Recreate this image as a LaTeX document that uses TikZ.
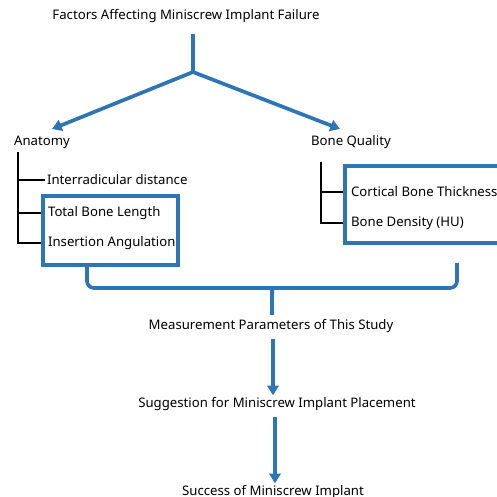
\documentclass[tikz,border=0pt]{standalone}
\usepackage{fontspec}
\setmainfont{Noto Sans}
\definecolor{flowblue}{RGB}{46,117,182}
\usetikzlibrary{arrows.meta,positioning,calc}
\tikzset{
  lbl/.style={font=\fontsize{7.5}{9}\selectfont,inner sep=1pt},
  item/.style={lbl,anchor=west},
  arr/.style={-{Triangle[length=5.5pt,width=6.5pt]},line width=2.1pt,flowblue},
  tree/.style={line width=1.2pt,black},
  pbox/.style={draw=flowblue,line width=2.1pt,inner sep=0pt},
  brace/.style={line width=2.1pt,flowblue,rounded corners=4pt},
}
\begin{document}
\begin{tikzpicture}[x=0.2mm,y=-0.2mm]
  \useasboundingbox (0,0) rectangle (497,497);
  \clip (0,0) rectangle (497,497);

  % top split
  \node[lbl] (fact) at (186,16) {Factors Affecting Miniscrew Implant Failure};
  \coordinate (stem) at (193,34);
  \coordinate (split) at (193,72);
  \node[item] (anat) at (12,142) {Anatomy};
  \node[item] (bq) at (309,142) {Bone Quality};
  \coordinate (anattip) at (52,129);
  \coordinate (bqtip) at (340,129);
  \draw[line width=2.1pt,flowblue] (stem) -- (split);
  \draw[arr] (split) -- (anattip);
  \draw[arr] (split) -- (bqtip);

  % anatomy branch
  \node[pbox,minimum width=27mm,minimum height=13.8mm] (abox) at (110.5,230.5) {};
  \node[item] (inter) at (45,180) {Interradicular distance};
  \node[item] (tbl) at (46,213) {Total Bone Length};
  \node[item] (ia) at (46,243) {Insertion Angulation};
  \coordinate (atop) at (18,152);
  \draw[tree] (atop) |- (ia.west -| abox.west);
  \draw[tree] (inter.west -| atop) -- (inter.west);
  \draw[tree] (tbl.west -| atop) -- (tbl.west -| abox.west);

  % bone quality branch
  \node[pbox,minimum width=33mm,minimum height=15.4mm] (bbox) at (427.5,204.5) {};
  \node[item] (cbt) at (349,192) {Cortical Bone Thickness};
  \node[item] (bd) at (349,223) {Bone Density (HU)};
  \coordinate (btop) at (321,162);
  \draw[tree] (btop) |- (bd.west -| bbox.west);
  \draw[tree] (cbt.west -| btop) -- (cbt.west -| bbox.west);

  % brace
  \coordinate (bl) at (87,263);
  \coordinate (br) at (457,263);
  \coordinate (bt) at (272,315);
  \draw[brace] (bl) -- (87,288) -- (265,288) .. controls (271,288) and (272,292) .. (272,300) -- (bt);
  \draw[brace] (br) -- (457,288) -- (279,288) .. controls (273,288) and (272,292) .. (272,300);

  % lower chain
  \node[lbl] (meas) at (271,326) {Measurement Parameters of This Study};
  \node[lbl] (sugg) at (277,404) {Suggestion for Miniscrew Implant Placement};
  \node[lbl] (succ) at (273,492) {Success of Miniscrew Implant};
  \coordinate (m1) at ($(meas.south)+(2,4)$);
  \coordinate (s1) at ($(sugg.south)+(-2,4)$);
  \draw[arr] (m1) -- (m1 |- sugg.north);
  \draw[arr] (s1) -- (s1 |- succ.north);
\end{tikzpicture}
\end{document}
